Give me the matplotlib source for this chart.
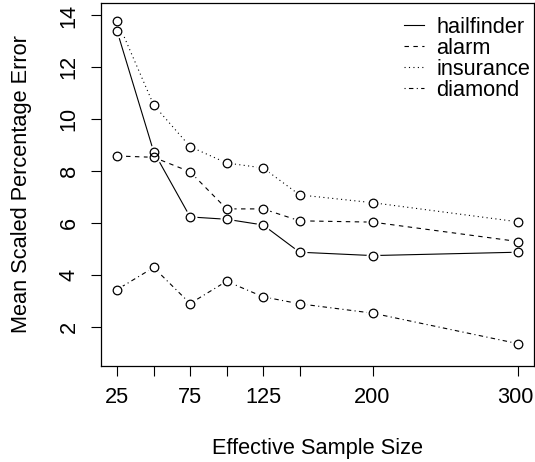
import matplotlib.pyplot as plt
import matplotlib.transforms as mtransforms
import numpy as np

plt.rcParams['font.family'] = ['Liberation Sans', 'DejaVu Sans']

# data
sample_size = [25, 50, 75, 100, 125, 150, 200, 300]
tick_labels = ["25", "", "75", "", "125", "", "200", "300"]
hailfinder = [13.39, 8.75, 6.23, 6.14, 5.92, 4.87, 4.74, 4.87]
alarm = [8.58, 8.53, 7.97, 6.54, 6.54, 6.08, 6.03, 5.28]
insurance = [13.80, 10.55, 8.94, 8.31, 8.12, 7.08, 6.78, 6.04]
diamond = [3.43, 4.28, 2.89, 3.75, 3.15, 2.88, 2.52, 1.34]

series = [
    ("hailfinder", hailfinder, "-"),
    ("alarm", alarm, (0, (4, 4))),
    ("insurance", insurance, (0, (1, 3))),
    ("diamond", diamond, (0, (1, 3, 4, 3))),
]

fs = 15.7

fig = plt.figure(figsize=(5.35, 4.62), dpi=100)
ax = fig.add_axes([0.189, 0.208, 0.81, 0.7855])

handles = []
for name, vals, ls in series:
    h, = ax.plot(sample_size, vals, color="black", linewidth=0.8, linestyle=ls, label=name)
    handles.append(h)
    # white gap around points like R type="b"
    ax.plot(sample_size, vals, linestyle="none", marker="o", markersize=10,
            markerfacecolor="white", markeredgecolor="none", zorder=3)
for name, vals, ls in series:
    ax.plot(sample_size, vals, linestyle="none", marker="o", markersize=6.2,
            markerfacecolor="none", markeredgecolor="black", markeredgewidth=0.9, zorder=4)

ax.set_xlim(14, 311)
ax.set_ylim(0.485, 14.48)
ax.set_xticks(sample_size)
ax.set_xticklabels(tick_labels)
ax.set_yticks([2, 4, 6, 8, 10, 12, 14])
ax.tick_params(axis="both", direction="out", length=7.5, width=0.8, labelsize=fs, pad=8)
for lab in ax.get_yticklabels():
    lab.set_rotation(90)
    lab.set_va("center")
for sp in ax.spines.values():
    sp.set_linewidth(0.9)

# nudge the last x label a little so it stays inside the picture
last = ax.get_xticklabels()[-1]
last.set_transform(last.get_transform() +
                   mtransforms.ScaledTranslation(-3 / 100, 0, fig.dpi_scale_trans))

ax.set_xlabel("Effective Sample Size", fontsize=fs, labelpad=21)
ax.set_ylabel("Mean Scaled Percentage Error", fontsize=fs, labelpad=19)

ax.legend(handles=handles, loc="upper right", frameon=False, fontsize=fs,
          handlelength=0.95, handletextpad=0.55, labelspacing=0.0,
          borderaxespad=0.0, borderpad=0.1, bbox_to_anchor=(0.995, 0.968))

plt.savefig("out.png", dpi=100)
